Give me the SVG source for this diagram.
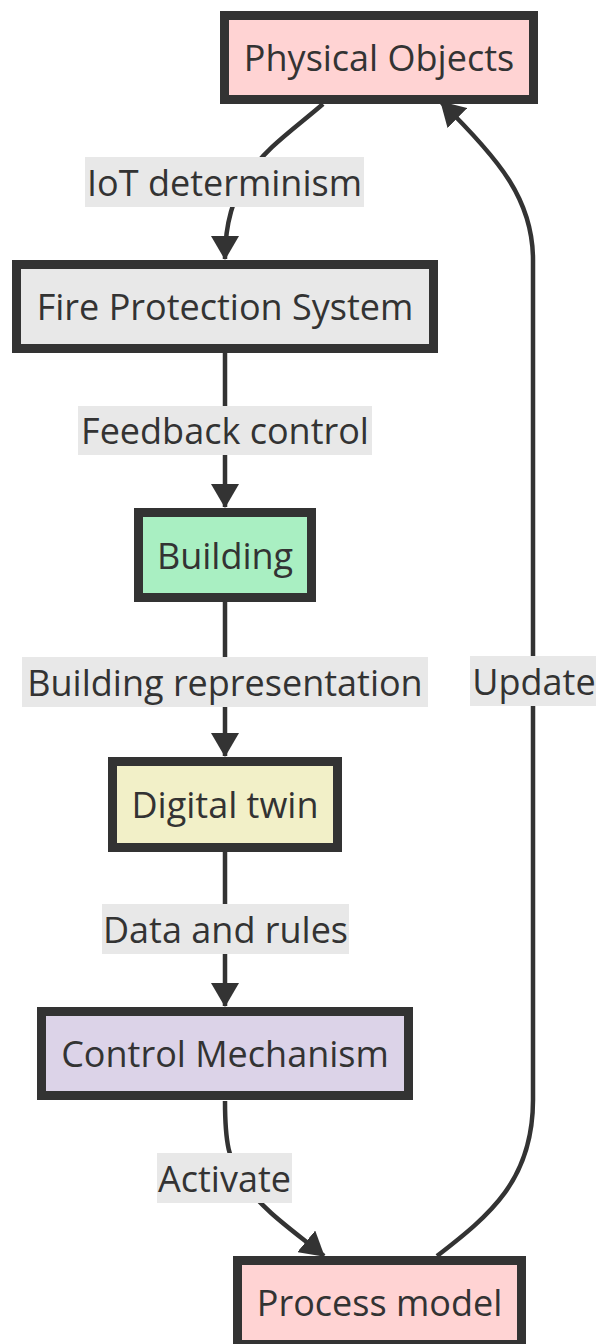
<svg xmlns="http://www.w3.org/2000/svg" width="596" height="1344" viewBox="0 0 596 1344">
<style>
.node rect{stroke:#333;stroke-width:9}
.node text,.lbl text{font-family:"Open Sans",sans-serif;font-size:36px;fill:#333;text-anchor:middle;dominant-baseline:central}
.lbl rect{fill:#e8e8e8}
.edge{fill:none;stroke:#333;stroke-width:4.5}
</style>
<defs>
<marker id="ah" markerUnits="userSpaceOnUse" viewBox="0 0 24 28" refX="23" refY="14" markerWidth="24" markerHeight="28" orient="auto">
<path d="M0,0 L24,14 L0,28 z" fill="#333"/>
</marker>
</defs>
<rect width="596" height="1344" fill="#fff"/>
<g id="connectors">
<path class="edge" d="M323,104 C272,148 225,172 225,259" marker-end="url(#ah)"/>
<path class="edge" d="M225,353 L225,507" marker-end="url(#ah)"/>
<path class="edge" d="M225,602 L225,756" marker-end="url(#ah)"/>
<path class="edge" d="M225,852 L225,1006" marker-end="url(#ah)"/>
<path class="edge" d="M225,1101 C225,1140 228,1162 245,1185 C265,1212 295,1232 324,1256" marker-end="url(#ah)"/>
<path class="edge" d="M437,1256 C490,1215 533,1180 533,1100 L533,260 C533,200 500,160 441,102" marker-end="url(#ah)"/>
<g class="lbl">
<rect x="85" y="157" width="279" height="50"/><text x="224.5" y="182">IoT determinism</text>
<rect x="78" y="406" width="294" height="49"/><text x="225" y="430.5">Feedback control</text>
<rect x="22" y="657" width="406" height="50"/><text x="225" y="682">Building representation</text>
<rect x="470" y="656" width="128" height="50"/><text x="534" y="681">Update</text>
<rect x="102" y="904" width="247" height="50"/><text x="225.5" y="929">Data and rules</text>
<rect x="157" y="1153" width="135" height="50"/><text x="224.5" y="1178">Activate</text>
</g>
</g>
<g id="physical" class="node"><rect x="224.5" y="15.5" width="309" height="84" fill="#ffd3d3"/><text x="379" y="57.5">Physical Objects</text></g>
<g id="fire" class="node"><rect x="16.5" y="264.5" width="417" height="84" fill="#e8e8e8"/><text x="225" y="306.5">Fire Protection System</text></g>
<g id="building" class="node"><rect x="138.5" y="512.5" width="173" height="85" fill="#a9efc2"/><text x="225" y="555">Building</text></g>
<g id="digital" class="node"><rect x="112.5" y="761.5" width="225" height="86" fill="#f2f0c8"/><text x="225" y="804.5">Digital twin</text></g>
<g id="control" class="node"><rect x="41.5" y="1011.5" width="367" height="84" fill="#dcd3e8"/><text x="225" y="1053.5">Control Mechanism</text></g>
<g id="process" class="node"><rect x="237.5" y="1260.5" width="284" height="84" fill="#ffd3d3"/><text x="379.5" y="1302.5">Process model</text></g>
</svg>
